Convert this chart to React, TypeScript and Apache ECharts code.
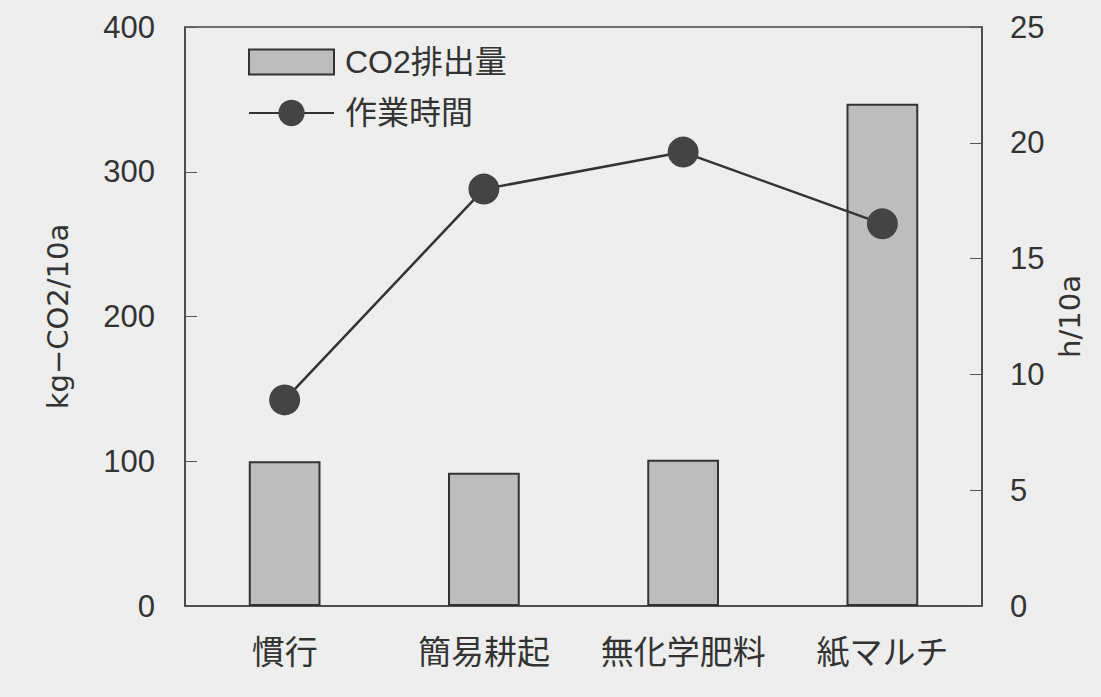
import React, { useEffect, useRef } from "react";
import * as echarts from "echarts";

const categories = ["慣行", "簡易耕起", "無化学肥料", "紙マルチ"];
const co2Values = [100, 92, 101, 347];
const hoursValues = [8.9, 18.0, 19.6, 16.5];
const leftTicks = [0, 400, 100];
const rightTicks = [0, 25, 5];

const FONT = "'Liberation Sans', 'Noto Sans CJK JP', sans-serif";
const NAME_FONT = "'DejaVu Sans', 'Liberation Sans', sans-serif";
const INK = "#333333";

export default function App() {
  const ref = useRef<HTMLDivElement>(null);
  useEffect(() => {
    document.body.style.margin = "0";
    const chart = echarts.init(ref.current!, undefined, { renderer: "svg" });
    const legendText = { fontSize: 32, color: INK, fontFamily: FONT, padding: [0, 0, 0, 6] };
    chart.setOption({
      animation: false,
      backgroundColor: "#eeeeee",
      textStyle: { fontFamily: FONT, color: INK },
      grid: {
        left: 185,
        right: 119,
        top: 27,
        bottom: 91,
        show: true,
        borderColor: "#444",
        borderWidth: 1.5,
        backgroundColor: "transparent",
      },
      legend: [
        {
          left: 243,
          top: 41,
          itemWidth: 85,
          itemHeight: 25,
          textStyle: legendText,
          data: [{ name: "CO2排出量", icon: "rect" }],
        },
        {
          left: 243,
          top: 92,
          itemWidth: 85,
          itemHeight: 33,
          textStyle: legendText,
          data: [{ name: "作業時間" }],
        },
      ],
      xAxis: {
        type: "category",
        data: categories,
        boundaryGap: true,
        axisLine: { lineStyle: { color: "#444", width: 1.5 } },
        axisTick: { inside: true, length: 12, lineStyle: { color: "#777" } },
        axisLabel: { fontSize: 33, color: INK, margin: 30, fontFamily: FONT, interval: 0 },
      },
      yAxis: [
        {
          type: "value",
          min: leftTicks[0],
          max: leftTicks[1],
          interval: leftTicks[2],
          name: "kg−CO2/10a",
          nameLocation: "middle",
          nameRotate: 90,
          nameGap: 113,
          nameTextStyle: { fontSize: 29, color: INK, fontFamily: NAME_FONT },
          axisLine: { show: true, lineStyle: { color: "#444", width: 1.5 } },
          axisTick: { show: true, inside: true, length: 12, lineStyle: { color: "#555" } },
          axisLabel: { fontSize: 31, color: INK, margin: 30, fontFamily: FONT },
          splitLine: { show: false },
        },
        {
          type: "value",
          position: "right",
          min: rightTicks[0],
          max: rightTicks[1],
          interval: rightTicks[2],
          name: "h/10a",
          nameLocation: "middle",
          nameRotate: 90,
          nameGap: 60,
          nameTextStyle: { fontSize: 29, color: INK, fontFamily: NAME_FONT },
          axisLine: { show: true, lineStyle: { color: "#444", width: 1.5 } },
          axisTick: { show: true, inside: true, length: 12, lineStyle: { color: "#555" } },
          axisLabel: { fontSize: 31, color: INK, margin: 28, fontFamily: FONT },
          splitLine: { show: false },
        },
      ],
      series: [
        {
          name: "CO2排出量",
          type: "bar",
          yAxisIndex: 0,
          data: co2Values,
          barWidth: "36%",
          itemStyle: { color: "#bdbdbd", borderColor: "#333", borderWidth: 2 },
        },
        {
          name: "作業時間",
          type: "line",
          yAxisIndex: 1,
          data: hoursValues,
          symbol: "circle",
          symbolSize: 31,
          lineStyle: { color: "#333", width: 2.5 },
          itemStyle: { color: "#444" },
        },
      ],
    });
    return () => chart.dispose();
  }, []);
  return <div ref={ref} style={{ width: 1101, height: 697 }} />;
}
